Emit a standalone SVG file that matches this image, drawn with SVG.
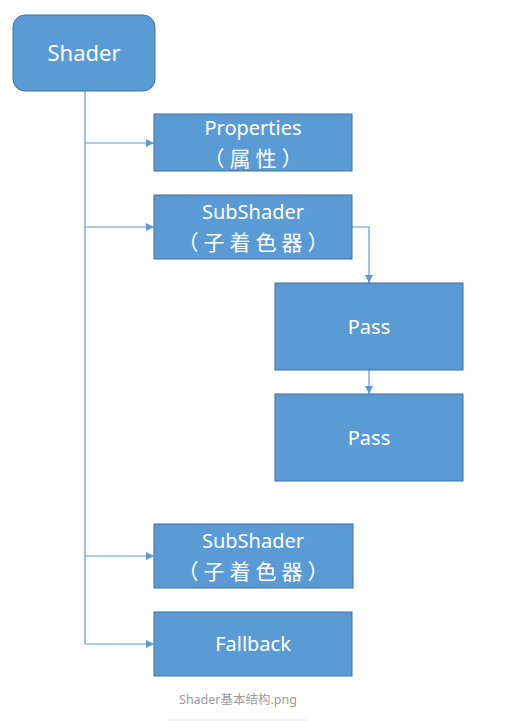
<svg xmlns="http://www.w3.org/2000/svg" width="527" height="721" viewBox="0 0 527 721">
<defs>
<marker id="arr" viewBox="0 0 10 10" refX="10" refY="5" markerWidth="8" markerHeight="8" markerUnits="userSpaceOnUse" orient="auto">
<path d="M0,0 L10,5 L0,10 z" fill="#5B9BD5"/>
</marker>
<style>
.box{fill:#5B9BD5;stroke:#41719C;stroke-width:1}
.t{fill:#ffffff;font-family:"Noto Sans","Noto Sans CJK SC",sans-serif;font-size:20px;text-anchor:middle}
.z{fill:#ffffff;font-family:"Noto Sans CJK SC",sans-serif;font-size:21px;letter-spacing:5px;text-anchor:middle}
.c{fill:none;stroke:#5B9BD5;stroke-width:1.2}
.cap{fill:#9a9a9a;font-family:"Noto Sans","Noto Sans CJK SC",sans-serif;font-size:12.5px;text-anchor:middle}
</style>
</defs>
<rect width="527" height="721" fill="#ffffff"/>
<g id="connectors">
<path class="c" d="M85,91 V644"/>
<path class="c" d="M85,143 H154" marker-end="url(#arr)"/>
<path class="c" d="M85,227 H154" marker-end="url(#arr)"/>
<path class="c" d="M85,556 H154" marker-end="url(#arr)"/>
<path class="c" d="M85,644 H154" marker-end="url(#arr)"/>
<path class="c" d="M352,227 H369 V283" marker-end="url(#arr)"/>
<path class="c" d="M369,370 V394" marker-end="url(#arr)"/>
</g>
<g id="shader">
<rect class="box" x="13" y="15" width="142" height="76" rx="12"/>
<text class="t" x="84" y="61" style="font-size:22px">Shader</text>
</g>
<g id="properties">
<rect class="box" x="154" y="114" width="198" height="57"/>
<text class="t" x="253" y="135">Properties</text>
<text class="z" x="255.5" y="166">（属性）</text>
</g>
<g id="subshader1">
<rect class="box" x="154" y="195" width="198" height="64"/>
<text class="t" x="253" y="219">SubShader</text>
<text class="z" x="255.5" y="250">（子着色器）</text>
</g>
<g id="pass1">
<rect class="box" x="275" y="283" width="188" height="87"/>
<text class="t" x="369" y="334">Pass</text>
</g>
<g id="pass2">
<rect class="box" x="275" y="394" width="188" height="87"/>
<text class="t" x="369" y="445">Pass</text>
</g>
<g id="subshader2">
<rect class="box" x="154" y="524" width="199" height="64"/>
<text class="t" x="253" y="548">SubShader</text>
<text class="z" x="255.5" y="579">（子着色器）</text>
</g>
<g id="fallback">
<rect class="box" x="154" y="612" width="198" height="64"/>
<text class="t" x="253" y="651">Fallback</text>
</g>
<g id="caption">
<text class="cap" x="238" y="704">Shader基本结构.png</text>
<line x1="169" y1="720" x2="307" y2="720" stroke="#e6e6e6" stroke-width="1"/>
</g>
</svg>
